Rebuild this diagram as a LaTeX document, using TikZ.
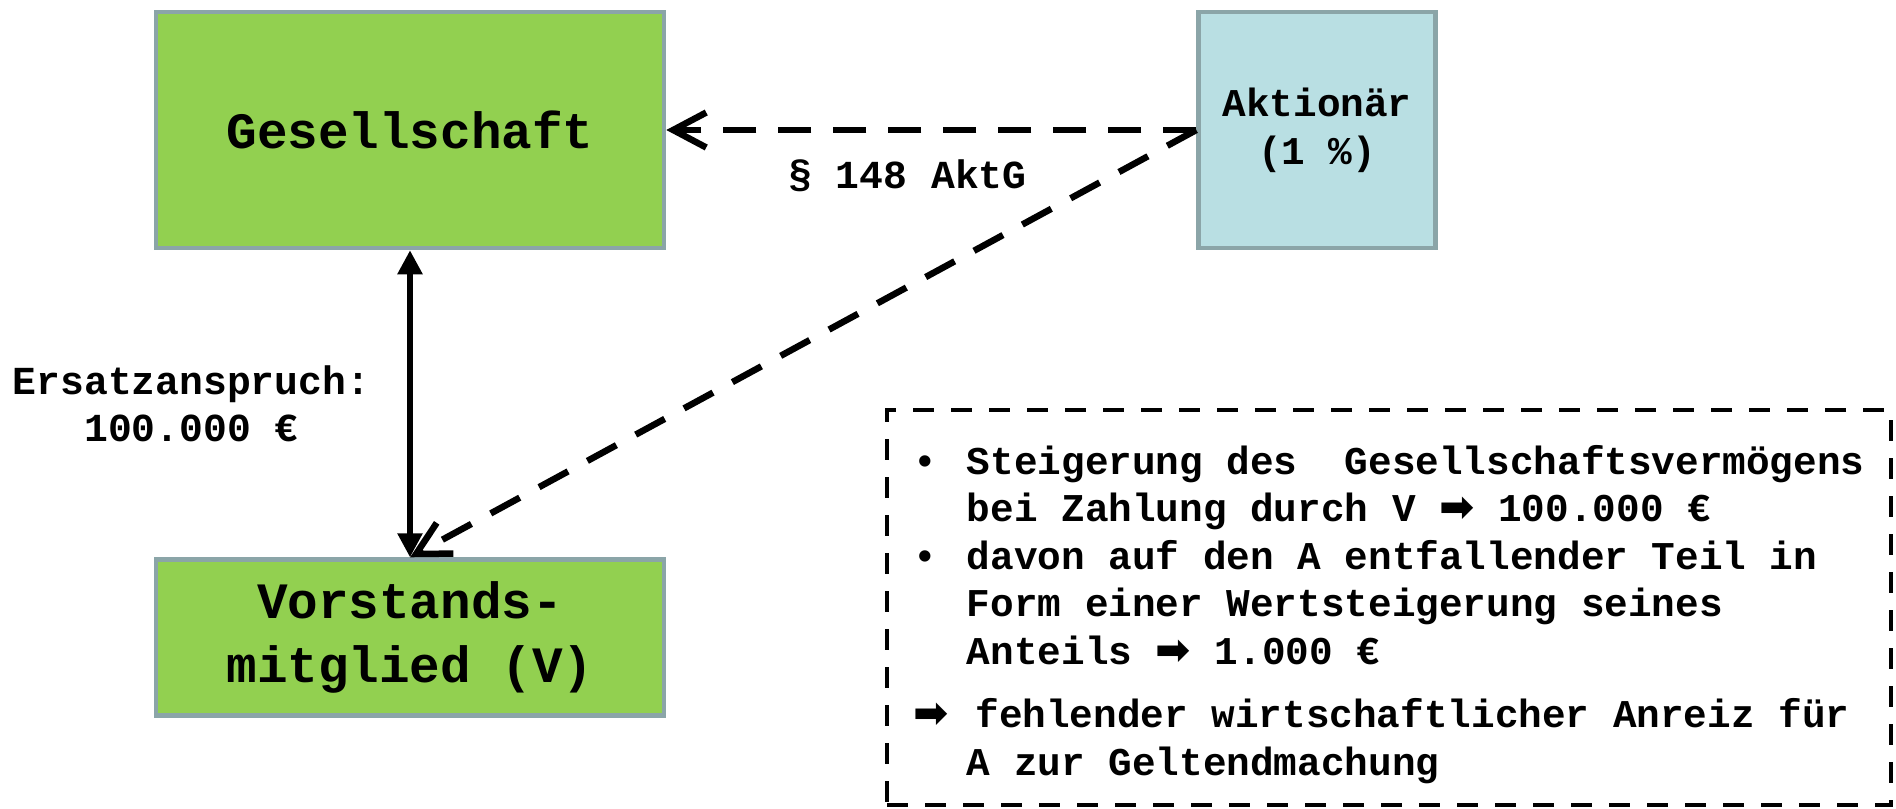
\documentclass[tikz,border=0pt]{standalone}
\usepackage{fontspec}
\setmainfont{Liberation Mono}
\newfontfamily\arrowf{DejaVu Sans}
\usetikzlibrary{arrows.meta,positioning}
\definecolor{firmgreen}{HTML}{92D050}
\definecolor{holderblue}{HTML}{B9DFE3}
\definecolor{edgegray}{HTML}{8BA5A8}
\newcommand{\thenarrow}{{\arrowf\bfseries\fontsize{12}{12}\selectfont ➡}}
\tikzstyle{firm}=[rectangle,draw=edgegray,line width=1.3pt,fill=firmgreen,align=center,minimum width=5.08cm,font=\bfseries\fontsize{14.5}{18.3}\selectfont]
\tikzstyle{holder}=[rectangle,draw=edgegray,line width=1.3pt,fill=holderblue,align=center,minimum width=2.37cm,minimum height=2.36cm,font=\bfseries\fontsize{11.2}{13.6}\selectfont]
\tikzstyle{note}=[rectangle,draw,line width=1.15pt,dash pattern=on 0.21cm off 0.17cm,align=left,minimum width=10.04cm,minimum height=3.95cm,inner sep=0pt,font=\bfseries\fontsize{11.2}{13.5}\selectfont]
\tikzstyle{lbl}=[align=center,inner sep=0pt,font=\bfseries\fontsize{11.3}{13.4}\selectfont]
\tikzstyle{claim}=[draw,{Triangle[length=2.4mm,width=2.4mm]}-{Triangle[length=2.4mm,width=2.4mm]},line width=1.6pt]
\tikzstyle{suit}=[draw,-{Straight Barb[length=3.3mm,width=3.5mm]},line width=1.85pt,dash pattern=on 0.33cm off 0.22cm]

\begin{document}
\begin{tikzpicture}
\useasboundingbox (0,0) rectangle (18.96,-8.08);
\node[firm,minimum height=2.36cm] (gs) at (4.10,-1.30) {Gesellschaft};
\node[holder,right=5.30cm of gs] (ak) {Aktionär\\(1 \%)};
\node[firm,minimum height=1.56cm,below=3.07cm of gs] (vm) {Vorstands-\\mitglied (V)};
\node[note] (info) at (13.89,-6.075) {%
\rule{0pt}{12.2pt}\makebox[0.535cm][l]{•}Steigerung des\ \ Gesellschaftsvermögens\\
\hspace*{0.535cm}bei Zahlung durch V \thenarrow{} 100.000 €\\
\makebox[0.535cm][l]{•}davon auf den A entfallender Teil in\\
\hspace*{0.535cm}Form einer Wertsteigerung seines\\
\hspace*{0.535cm}Anteils \thenarrow{} 1.000 €\\[4.6pt]
\makebox[0.62cm][l]{\thenarrow}fehlender wirtschaftlicher Anreiz für\\
\hspace*{0.535cm}A zur Geltendmachung};
\path[claim] (gs) -- (vm) node[lbl,midway,left=0.37cm] {Ersatzanspruch:\\100.000 €};
\path[suit] (ak) -- (gs) node[lbl,pos=0.545,below=0.26cm] {§ 148 AktG};
\path[suit] (ak.west) -- (vm.north);
\end{tikzpicture}
\end{document}
